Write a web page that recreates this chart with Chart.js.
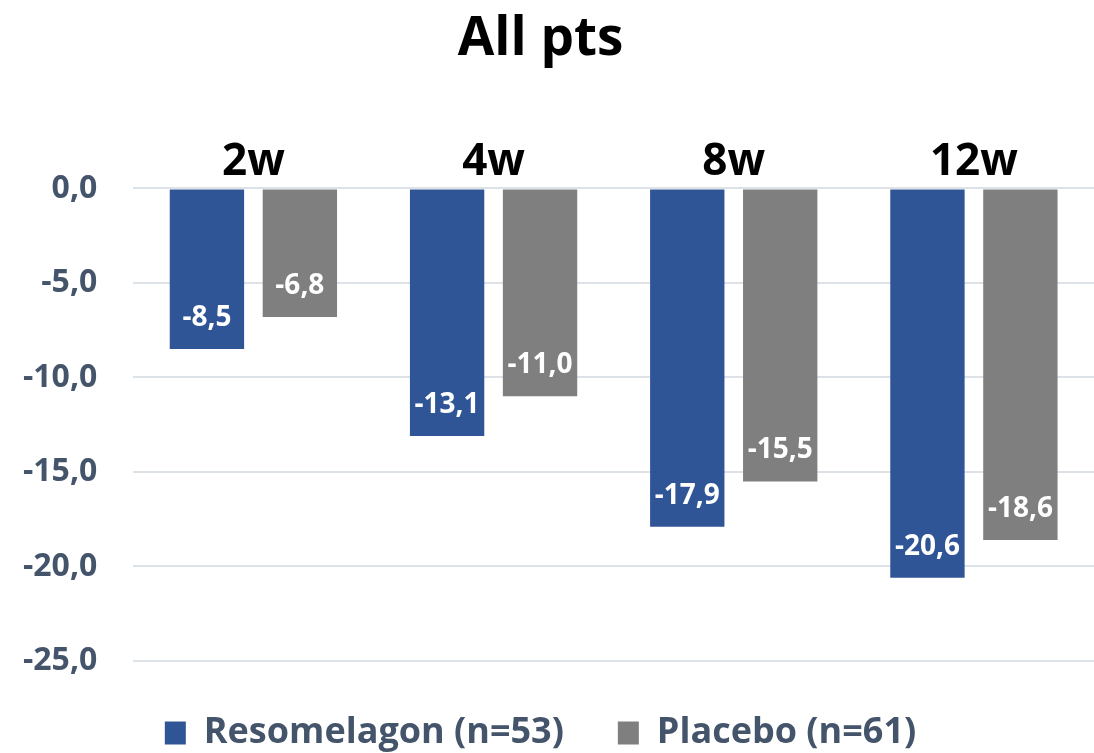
<!DOCTYPE html>
<html>
<head>
<meta charset="utf-8">
<script src="https://cdn.jsdelivr.net/npm/chart.js@4"></script>
<style>
  html, body { margin: 0; padding: 0; background: #fff; overflow: hidden; }
  /* het canvas is iets hoger dan het venster: de legenda heeft onderaan weinig ruimte */
  #wrap { width: 1094px; height: 761px; }
</style>
</head>
<body>
<div id="wrap"><canvas id="grafiek"></canvas></div>
<script>
// data
var weken = ['2w', '4w', '8w', '12w'];
var resomelagon = [-8.5, -13.1, -17.9, -20.6];
var placebo = [-6.8, -11.0, -15.5, -18.6];
var reeksNamen = ['Resomelagon (n=53)', 'Placebo (n=61)'];
var yMin = -25, yMax = 0, yStap = 5;

Chart.defaults.font.family = '"Open Sans", sans-serif';
Chart.defaults.font.weight = 'bold';

function komma(v) {
  return v.toFixed(1).replace('.', ',');
}

// witte labels in de balken, vlak boven het uiteinde
var waardeLabels = {
  id: 'waardeLabels',
  afterDatasetsDraw: function(chart) {
    var ctx = chart.ctx;
    ctx.save();
    ctx.font = 'bold 28px "Open Sans", sans-serif';
    ctx.fillStyle = '#ffffff';
    ctx.textAlign = 'center';
    ctx.textBaseline = 'middle';
    chart.data.datasets.forEach(function(ds, i) {
      chart.getDatasetMeta(i).data.forEach(function(bar, j) {
        ctx.fillText(komma(ds.data[j]), bar.x, bar.y - 31);
      });
    });
    ctx.restore();
  }
};

var ctx = document.getElementById('grafiek');
var myChart = new Chart(ctx, {
  type: 'bar',
  data: {
    labels: weken,
    datasets: [{
      label: reeksNamen[0],
      data: resomelagon,
      backgroundColor: '#2F5597'
    }, {
      label: reeksNamen[1],
      data: placebo,
      backgroundColor: '#7F7F7F'
    }]
  },
  options: {
    responsive: true,
    maintainAspectRatio: false,
    animation: false,
    categoryPercentage: 0.774,
    barPercentage: 0.8,
    layout: { padding: { left: -13, right: 0, top: 0, bottom: 0 } },
    scales: {
      x: {
        position: 'top',
        grid: { display: false, drawTicks: false },
        border: { display: false },
        ticks: {
          color: '#000000',
          font: { size: 44, weight: 'bold' },
          padding: 0
        }
      },
      y: {
        min: yMin,
        max: yMax,
        ticks: {
          stepSize: yStap,
          color: '#44546A',
          font: { size: 32, weight: 'bold' },
          padding: 36,
          callback: function(v) { return komma(v); }
        },
        grid: { color: '#DDE1E8', lineWidth: 2, drawTicks: false },
        border: { display: false }
      }
    },
    plugins: {
      title: {
        display: true,
        text: 'All pts',
        color: '#000000',
        font: { size: 53, weight: 'bold' },
        padding: { top: 8, bottom: 64 }
      },
      legend: {
        position: 'bottom',
        labels: {
          color: '#44546A',
          font: { size: 36, weight: 'bold' },
          boxWidth: 21,
          boxHeight: 23,
          padding: 54
        }
      },
      tooltip: { enabled: false }
    }
  },
  plugins: [waardeLabels]
});
</script>
</body>
</html>
